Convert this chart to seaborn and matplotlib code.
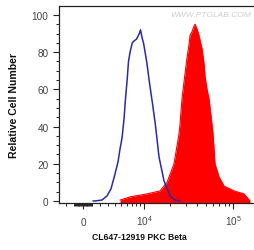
import numpy as np
import pandas as pd
import matplotlib
matplotlib.use("Agg")
import matplotlib.pyplot as plt
import seaborn as sns
from matplotlib.ticker import FixedLocator, FixedFormatter

# ---- data (fluorescence intensity, relative cell number) ----
ctrl_x = [1148, 1383, 2240, 2894, 3449, 4042, 4511, 4844, 5193, 5560, 5803, 6129,
          6376, 6733, 7159, 7524, 8093, 8784, 9069, 9562, 9863, 10392, 10858,
          11578, 12541, 13576, 14976, 17072, 19952, 22696, 25802]
ctrl_y = [0, 0, 0.5, 2.7, 6.5, 14.5, 21, 28, 34, 45, 55, 65.6,
          75, 80.6, 85, 86, 87, 90, 92, 87, 85, 79, 73.7,
          64, 53, 41.4, 23.7, 10.8, 2.7, 0.5, 0]

stain_x = [4844, 6733, 10858, 15374, 18459, 22118, 25149, 25802, 27157, 28581,
           30855, 32468, 33304, 35042, 36869, 37818, 39788, 41858, 44041, 45170,
           47520, 48740, 51273, 53936, 58190, 59670, 62780, 69470, 78820, 101500,
           130600, 151950]
stain_y = [0.5, 2.2, 3.8, 5.4, 10, 20, 36, 41, 55, 64,
           77, 84, 89, 91, 94, 95, 92.5, 89, 84, 82,
           74, 67, 60, 55, 41, 36, 20, 13, 8, 5.4,
           3.8, 0]

y_ticks = [0, 20, 40, 60, 80, 100]
x_ticks = [0, 10000, 100000]
x_tick_labels = ["0", r"$10^4$", r"$10^5$"]

ctrl = pd.DataFrame({"x": ctrl_x, "y": ctrl_y})
stain = pd.DataFrame({"x": stain_x, "y": stain_y})

sns.set_style("ticks")
plt.rcParams["font.family"] = ["Liberation Sans", "DejaVu Sans"]
plt.rcParams["mathtext.fontset"] = "custom"
plt.rcParams["mathtext.rm"] = "Liberation Sans"
plt.rcParams["mathtext.it"] = "Liberation Sans"
plt.rcParams["mathtext.bf"] = "Liberation Sans:bold"

fig = plt.figure(figsize=(2.54, 2.51), dpi=100)
ax = fig.add_axes([59 / 254, 47 / 251, 195 / 254, 197 / 251])

C = 4500.0
ax.set_xscale("function", functions=(lambda v: np.arcsinh(np.asarray(v) / C),
                                     lambda u: C * np.sinh(np.asarray(u))))
ax.set_xlim(-2894, 168100)
ax.set_ylim(-1.1, 104.8)

ybot = ax.get_ylim()[0]
ax.fill_between(stain["x"], stain["y"], ybot, color="#ff0000", linewidth=0, zorder=2)
sns.lineplot(data=stain, x="x", y="y", color="#ff0000", linewidth=0.8, ax=ax,
             sort=False, estimator=None, zorder=2)
sns.lineplot(data=ctrl, x="x", y="y", color="#2a2aa8", linewidth=1.1, ax=ax,
             sort=False, estimator=None, zorder=3)

# ticks
ax.xaxis.set_major_locator(FixedLocator(x_ticks))
ax.xaxis.set_major_formatter(FixedFormatter(x_tick_labels))
minor = ([-m for m in (100, 200, 300, 400, 500, 600, 700, 800, 900, 1000, 2000)]
         + [100, 200, 300, 400, 500, 600, 700, 800, 900, 1000]
         + [2000, 3000, 4000, 5000, 6000, 7000, 8000, 9000]
         + [20000, 30000, 40000, 50000, 60000, 70000, 80000, 90000])
ax.xaxis.set_minor_locator(FixedLocator(minor))
ax.set_yticks(y_ticks)
ax.yaxis.set_minor_locator(FixedLocator(np.arange(0, 105, 5)))

ax.tick_params(axis="both", which="major", direction="out", length=4, width=0.8,
               color="#222222", labelsize=7.2, labelcolor="#444444")
ax.tick_params(axis="both", which="minor", direction="out", length=2.2, width=0.7,
               color="#222222")
ax.tick_params(axis="x", which="major", pad=12)
for lab in ax.get_xticklabels():
    lab.set_verticalalignment("baseline")

for s in ["left", "bottom", "top"]:
    ax.spines[s].set_color("#222222")
    ax.spines[s].set_linewidth(0.9)
ax.spines["right"].set_visible(False)

ax.set_ylabel("Relative Cell Number", fontsize=7.6, fontweight="bold", color="#111111",
              labelpad=9)
ax.set_xlabel("CL647-12919 PKC Beta", fontsize=6.2, fontweight="bold", color="#111111")
ax.xaxis.set_label_coords((139 - 59) / 195, -0.145)

ax.text(0.985, 0.955, "WWW.PTGLAB.COM", transform=ax.transAxes, ha="right", va="center",
        fontsize=6, style="italic", color="#cfcfcf")

fig.savefig("out.png", dpi=100)
